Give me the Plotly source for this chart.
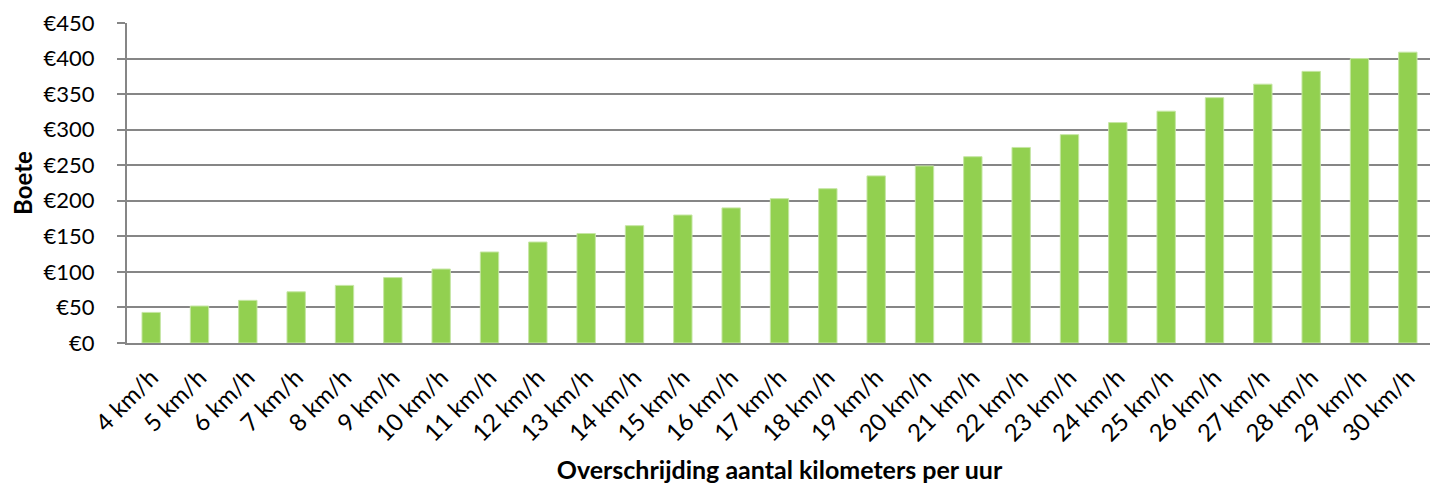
import plotly.graph_objects as go

speeds = [f"{k} km/h" for k in range(4, 31)]
fines = [43, 52, 60, 72, 81, 92, 104, 128, 142, 154, 165, 180, 190, 203, 217,
         235, 249, 262, 275, 293, 310, 326, 345, 364, 382, 400, 409]
y_ticks = list(range(0, 451, 50))
y_labels = [f"€{v}" for v in y_ticks]

font = "Lato, 'Open Sans', sans-serif"

fig = go.Figure(go.Bar(
    x=speeds, y=fines,
    marker=dict(color="#92D050", line=dict(color="#C6E6A4", width=1)),
))

# page body has an 8px margin, so the figure is a bit smaller than the window
fig.update_layout(
    width=1430, height=476,
    margin=dict(l=119, r=6, t=15, b=141),
    plot_bgcolor="white", paper_bgcolor="white",
    bargap=0.62,
    showlegend=False,
    font=dict(family=font, size=22, color="black"),
)
fig.update_xaxes(
    tickangle=-45, showline=True, linecolor="#868686", linewidth=2,
    ticks="", showgrid=False, ticklabelstandoff=9,
    tickfont=dict(size=24),
    title=dict(text="<b>Overschrijding aantal kilometers per uur</b>",
               font=dict(size=25), standoff=22),
    automargin=False,
)
fig.update_yaxes(
    range=[0, 450], tickvals=y_ticks, ticktext=y_labels,
    showgrid=True, gridcolor="#868686", gridwidth=2,
    showline=True, linecolor="#868686", linewidth=2,
    ticks="outside", ticklen=8, tickcolor="#868686", tickwidth=2,
    ticklabelstandoff=18,
    zeroline=False,
    title=dict(text="<b>Boete</b>", font=dict(size=24), standoff=24),
    automargin=False,
)

fig.write_html("out.html")
